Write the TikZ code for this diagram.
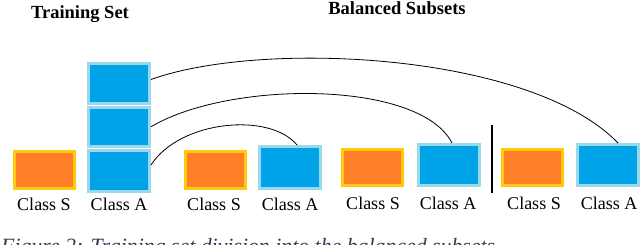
\documentclass[tikz,border=0pt]{standalone}
\usepackage{fontspec}
\setmainfont{Liberation Serif}
\definecolor{orangefill}{RGB}{255,127,39}
\definecolor{orangeedge}{RGB}{255,201,14}
\definecolor{bluefill}{RGB}{0,162,232}
\definecolor{blueedge}{RGB}{153,217,234}
\definecolor{captiongray}{RGB}{50,60,85}
\tikzset{
  obox/.style={draw=orangeedge, fill=orangefill, line width=3pt, minimum width=60pt, minimum height=36pt, inner sep=0pt},
  abox/.style={draw=blueedge, fill=bluefill, line width=3pt, minimum width=61pt, minimum height=41pt, inner sep=0pt},
  lbl/.style={font=\fontsize{18}{20}\selectfont, anchor=base, inner sep=0pt},
  ttl/.style={font=\fontsize{18.5}{21}\selectfont\bfseries, anchor=base, inner sep=0pt},
  link/.style={draw=black, line width=0.8pt}
}
\begin{document}
\begin{tikzpicture}[x=1pt,y=-1pt]
\useasboundingbox (0,0) rectangle (640,244);
\fill[white] (0,0) rectangle (640,244);
% titles
\node[ttl] (t1) at (80,18.5) {Training Set};
\node[ttl] (t2) at (397,14) {Balanced Subsets};
% group 1: training set
\node[obox, minimum height=37pt] (s1) at (44,170) {};
\node[abox, minimum height=40pt] (a1t) at (119,83.5) {};
\node[abox, minimum height=39.5pt] (a1m) at (119,126.75) {};
\node[abox, minimum height=41.5pt] (a1b) at (119,171) {};
\node[lbl] (ls1) at (44,210) {Class S};
\node[lbl] (la1) at (119,210) {Class A};
% group 2
\node[obox, minimum height=37pt] (s2) at (215,170) {};
\node[abox, minimum height=42pt] (a2) at (290,167.5) {};
\node[lbl] (ls2) at (214,210) {Class S};
\node[lbl] (la2) at (290,210) {Class A};
% group 3
\node[obox] (s3) at (372,167.5) {};
\node[abox] (a3) at (448.5,165) {};
\node[lbl] (ls3) at (373,209.5) {Class S};
\node[lbl] (la3) at (448,209.5) {Class A};
% separator
\coordinate (sepTop) at (492,125);
\coordinate (sepBot) at (492,193);
\draw[line width=1.3pt] (sepTop) -- (sepBot);
% group 4
\node[obox] (s4) at (532,167.5) {};
\node[abox] (a4) at (607.5,165) {};
\node[lbl] (ls4) at (534,209.5) {Class S};
\node[lbl] (la4) at (609,209.5) {Class A};
% links
\draw[link] ([yshift=6pt]a1b.east) .. controls (180,120) and (270,112) .. ([xshift=7pt]a2.north);
\draw[link] (a1m.east) .. controls (230,80) and (420,80) .. ([xshift=3.5pt]a3.north);
\draw[link] ([yshift=4pt]a1t.east) .. controls (260,40) and (530,52) .. ([xshift=10.5pt]a4.north);
% caption (cut off at the bottom edge, as in the reference)
\begin{scope}
\clip (0,0) rectangle (640,244);
\node[anchor=base west, inner sep=0pt, text=captiongray, font=\fontsize{21.8}{24}\selectfont\itshape] (cap) at (1,253) {Figure 2: Training set division into the balanced subsets};
\end{scope}
\end{tikzpicture}
\end{document}
